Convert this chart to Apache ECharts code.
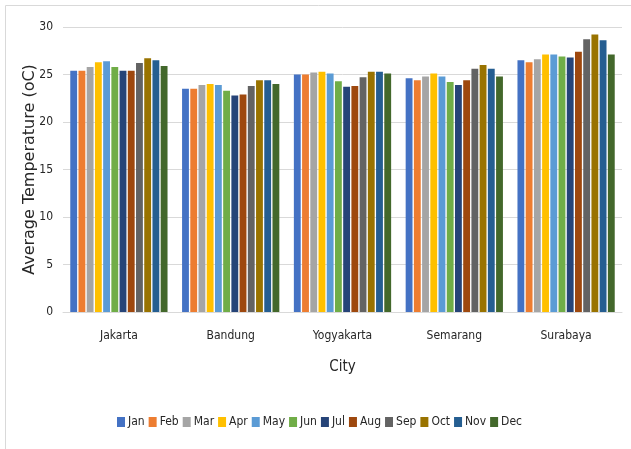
<!DOCTYPE html>
<html>
<head>
<meta charset="utf-8">
<script src="https://cdn.jsdelivr.net/npm/echarts@6/dist/echarts.min.js"></script>
<style>
html,body{margin:0;padding:0;background:#fff;}
#c{width:631px;height:449px;}
</style>
</head>
<body>
<div id="c"></div>
<script>
var cities = ['Jakarta', 'Bandung', 'Yogyakarta', 'Semarang', 'Surabaya'];
var months = ['Jan','Feb','Mar','Apr','May','Jun','Jul','Aug','Sep','Oct','Nov','Dec'];
var jakarta    = [25.4, 25.4, 25.8, 26.3, 26.4, 25.8, 25.4, 25.4, 26.2, 26.7, 26.5, 25.9];
var bandung    = [23.5, 23.5, 23.9, 24.0, 23.9, 23.3, 22.8, 22.9, 23.8, 24.4, 24.4, 24.0];
var yogyakarta = [25.0, 25.0, 25.2, 25.3, 25.1, 24.3, 23.7, 23.8, 24.7, 25.3, 25.3, 25.1];
var semarang   = [24.6, 24.4, 24.8, 25.1, 24.8, 24.2, 23.9, 24.4, 25.6, 26.0, 25.6, 24.8];
var surabaya   = [26.5, 26.3, 26.6, 27.1, 27.1, 26.9, 26.8, 27.4, 28.7, 29.2, 28.6, 27.1];
var yTicks = [0, 5, 10, 15, 20, 25, 30];

var colors = ['#4472C4','#ED7D31','#A5A5A5','#FFC000','#5B9BD5','#70AD47','#264478','#9E480E','#636363','#997300','#255E91','#43682B'];
var cityData = [jakarta, bandung, yogyakarta, semarang, surabaya];
var font = "'DejaVu Sans Condensed', 'Liberation Sans', sans-serif";

var series = months.map(function (m, i) {
  return {
    name: m,
    type: 'bar',
    data: cityData.map(function (arr) { return arr[i]; }),
    itemStyle: { color: colors[i] },
    barGap: '20%',
    barCategoryGap: '13%'
  };
});

var chart = echarts.init(document.getElementById('c'), null, { renderer: 'canvas' });
chart.setOption({
  animation: false,
  color: colors,
  textStyle: { fontFamily: font },
  graphic: [{
    type: 'rect', silent: true, z: -10,
    shape: { x: 5.5, y: 5.5, width: 700, height: 600 },
    style: { fill: 'none', stroke: '#d9d9d9', lineWidth: 1 }
  }],
  grid: { left: 63, right: 9, top: 27, bottom: 137, containLabel: false },
  legend: {
    data: months,
    top: 411,
    left: 112,
    itemWidth: 8,
    itemHeight: 10,
    itemGap: 4,
    icon: 'rect',
    textStyle: { fontFamily: font, fontSize: 12, color: '#262626', padding: [0, 0, 0, -2] }
  },
  xAxis: {
    type: 'category',
    data: cities,
    name: 'City',
    nameLocation: 'middle',
    nameGap: 48,
    nameMoveOverlap: false,
    nameTextStyle: { fontFamily: font, fontSize: 15, color: '#262626' },
    axisLine: { lineStyle: { color: '#d9d9d9', width: 1 } },
    axisTick: { show: false },
    axisLabel: { margin: 18, fontFamily: font, fontSize: 12, color: '#262626' }
  },
  yAxis: {
    type: 'value',
    min: yTicks[0],
    max: yTicks[yTicks.length - 1],
    interval: 5,
    name: 'Average Temperature (oC)',
    nameLocation: 'middle',
    nameGap: 25,
    nameMoveOverlap: false,
    nameTextStyle: { fontFamily: "'DejaVu Sans', sans-serif", fontSize: 16, color: '#262626' },
    axisLine: { show: false },
    axisTick: { show: false },
    axisLabel: { margin: 10, fontFamily: font, fontSize: 12, color: '#262626' },
    splitLine: { lineStyle: { color: '#d9d9d9', width: 1 } }
  },
  series: series
});
</script>
</body>
</html>
